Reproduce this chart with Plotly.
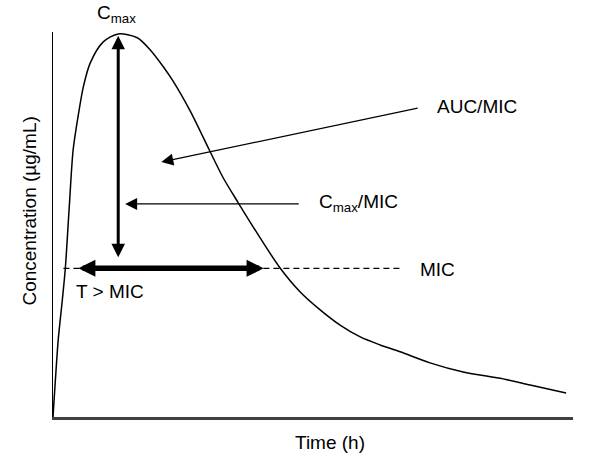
import plotly.graph_objects as go

# Concentration-time curve (time in h, concentration in arbitrary units)
time_h = [0.0, 0.11, 0.24, 0.43, 0.57, 0.75, 0.93, 1.17, 1.40, 1.72, 2.32, 3.01, 3.89, 4.49,
          5.09, 5.50, 6.33, 7.21, 7.86, 8.55, 9.56, 10.48, 11.41, 12.33, 13.25, 14.18,
          15.10, 16.02, 17.40, 18.93, 20.77, 22.02, 23.68]
conc = [0.0, 0.97, 2.02, 3.07, 3.91, 5.51, 7.01, 7.93, 8.66, 9.29, 9.84, 10.05, 9.95, 9.63,
        9.19, 8.85, 8.03, 7.01, 6.27, 5.62, 4.70, 3.91, 3.28, 2.81, 2.41, 2.10,
        1.89, 1.71, 1.42, 1.18, 1.00, 0.84, 0.63]

MIC = 3.9
CMAX = 10.0
T_CMAX = 3.01
mic_line_x = [0.48, 16.11]
t_above_mic = [1.17, 9.79]          # T > MIC double arrow
cmax_mic_arrow_x = [11.41, 3.33]    # tail, head
cmax_mic_y = 5.59
cmax_arrow_bottom = 4.15
auc_arrow = {"tail": (16.90, 8.11), "head": (5.0, 6.69)}

labels = {
    "cmax_mic": ("C<sub>max</sub>/MIC", 12.2, 5.62),
    "auc_mic": ("AUC/MIC", 17.65, 8.14),
    "mic": ("MIC", 16.86, 3.88),
    "t_mic": ("T > MIC", 0.95, 3.28),
}
# labels outside the plotting area (paper coordinates)
cmax_label = ("C<sub>max</sub>", 0.081, 1.01)
x_title = ("Time (h)", 0.532, -0.066)
y_title = ("Concentration (µg/mL)", -0.047, 0.535)

FONT = dict(family="Liberation Sans, Arial, sans-serif", size=19, color="black")

fig = go.Figure()
fig.add_trace(go.Scatter(x=time_h, y=conc, mode="lines",
                         line=dict(color="black", width=1.5, shape="spline", smoothing=0.8),
                         hoverinfo="skip", showlegend=False))
fig.add_trace(go.Scatter(x=mic_line_x, y=[MIC, MIC], mode="lines",
                         line=dict(color="black", width=1.2, dash="6px,4px"),
                         hoverinfo="skip", showlegend=False))

ann = []
ann.append(dict(x=T_CMAX, y=CMAX, ax=T_CMAX, ay=cmax_arrow_bottom, xref="x", yref="y",
                axref="x", ayref="y", text="", showarrow=True, arrowhead=2, startarrowhead=2,
                arrowside="end+start", arrowwidth=3, arrowsize=0.9, startarrowsize=0.9,
                arrowcolor="black", standoff=0, startstandoff=0))
ann.append(dict(x=t_above_mic[0], y=MIC, ax=t_above_mic[1], ay=MIC, xref="x", yref="y",
                axref="x", ayref="y", text="", showarrow=True, arrowhead=2, startarrowhead=2,
                arrowside="end+start", arrowwidth=5.5, arrowsize=0.62, startarrowsize=0.62,
                arrowcolor="black", standoff=0, startstandoff=0))
ann.append(dict(x=cmax_mic_arrow_x[1], y=cmax_mic_y, ax=cmax_mic_arrow_x[0], ay=cmax_mic_y,
                xref="x", yref="y", axref="x", ayref="y", text="", showarrow=True,
                arrowhead=2, arrowwidth=1.2, arrowsize=2.0, arrowcolor="black", standoff=0))
ann.append(dict(x=auc_arrow["head"][0], y=auc_arrow["head"][1], ax=auc_arrow["tail"][0],
                ay=auc_arrow["tail"][1], xref="x", yref="y", axref="x", ayref="y", text="",
                showarrow=True, arrowhead=2, arrowwidth=1.2, arrowsize=2.0,
                arrowcolor="black", standoff=0))

for key, (txt, lx, ly) in labels.items():
    ann.append(dict(x=lx, y=ly, xref="x", yref="y", text=txt, showarrow=False,
                    xanchor="left", yanchor="middle", font=FONT))

ann.append(dict(x=cmax_label[1], y=cmax_label[2], xref="paper", yref="paper",
                text=cmax_label[0], showarrow=False, xanchor="left", yanchor="bottom", font=FONT))
ann.append(dict(x=x_title[1], y=x_title[2], xref="paper", yref="paper", text=x_title[0],
                showarrow=False, xanchor="center", yanchor="middle", font=FONT))
ann.append(dict(x=y_title[1], y=y_title[2], xref="paper", yref="paper", text=y_title[0],
                showarrow=False, xanchor="center", yanchor="middle", textangle=-90, font=FONT))

fig.update_layout(
    width=600, height=463,
    margin=dict(l=53, r=27, t=32, b=46),
    paper_bgcolor="white", plot_bgcolor="white",
    annotations=ann,
    xaxis=dict(range=[0, 24], showgrid=False, zeroline=False, showticklabels=False,
               ticks="", showline=True, linecolor="#404040", linewidth=2.5, fixedrange=True),
    yaxis=dict(range=[0, 10.1], showgrid=False, zeroline=False, showticklabels=False,
               ticks="", showline=True, linecolor="black", linewidth=1.3, fixedrange=True),
)

fig.write_html("out.html", post_script="document.body.style.margin='0';",
               config={"displayModeBar": False})
